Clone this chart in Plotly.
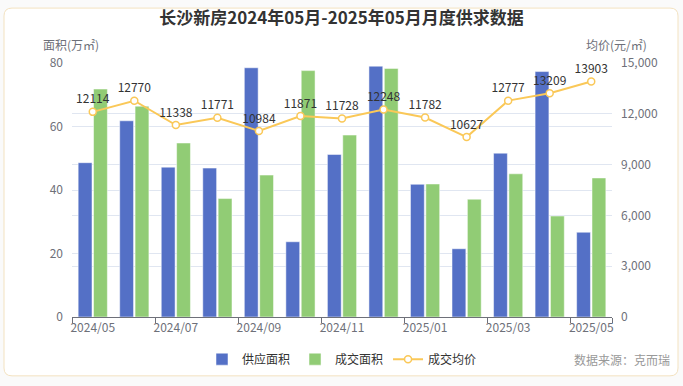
import plotly.graph_objects as go

months = ["2024/05", "2024/06", "2024/07", "2024/08", "2024/09", "2024/10", "2024/11",
          "2024/12", "2025/01", "2025/02", "2025/03", "2025/04", "2025/05"]
supply = [48.6, 61.8, 47.2, 46.9, 78.5, 23.7, 51.2, 79.0, 41.8, 21.5, 51.6, 77.3, 26.7]
deal = [71.8, 66.4, 54.8, 37.3, 44.7, 77.6, 57.3, 78.3, 41.9, 37.1, 45.1, 31.8, 43.8]
price = [12114, 12770, 11338, 11771, 10984, 11871, 11728, 12248, 11782, 10627, 12777, 13209, 13903]

FONT = "Noto Sans CJK SC, Microsoft YaHei, sans-serif"
idx = list(range(len(months)))

fig = go.Figure()
fig.add_trace(go.Bar(x=idx, y=supply, name="供应面积", marker=dict(color="#5470c6", line=dict(color="white", width=0.5))))
fig.add_trace(go.Bar(x=idx, y=deal, name="成交面积", marker=dict(color="#91cc75", line=dict(color="white", width=0.5))))
fig.add_trace(go.Scatter(
    x=idx, y=price, name="成交均价", yaxis="y2", mode="lines+markers+text",
    line=dict(color="#fac858", width=2),
    marker=dict(symbol="circle", size=7, color="white", line=dict(color="#fac858", width=1.5)),
    text=[str(p) for p in price], textposition="top center",
    textfont=dict(family=FONT, size=12, color="#333333"),
))

# card geometry (pixel -> paper)
L, R, T, B = 72, 612, 63, 322
W, H = R - L, B - T
def px(x): return (x - L) / W
def py(y): return (B - y) / H
x0, x1, y0, y1, r = 4, 678, 7, 382, 8
path = (f"M {px(x0 + r)} {py(y0)} L {px(x1 - r)} {py(y0)} Q {px(x1)} {py(y0)} {px(x1)} {py(y0 + r)} "
        f"L {px(x1)} {py(y1 - r)} Q {px(x1)} {py(y1)} {px(x1 - r)} {py(y1)} "
        f"L {px(x0 + r)} {py(y1)} Q {px(x0)} {py(y1)} {px(x0)} {py(y1 - r)} "
        f"L {px(x0)} {py(y0 + r)} Q {px(x0)} {py(y0)} {px(x0 + r)} {py(y0)} Z")

fig.update_layout(
    width=683, height=386,
    margin=dict(l=L, r=683 - R, t=T, b=386 - B),
    paper_bgcolor="#fafafa", plot_bgcolor="rgba(0,0,0,0)",
    font=dict(family=FONT, size=12, color="#6e7079"),
    title=dict(text="<b>长沙新房2024年05月-2025年05月月度供求数据</b>", x=0.5, xanchor="center",
               y=1 - 18 / 386, yanchor="middle", font=dict(family=FONT, size=17, color="#333333")),
    barmode="group", bargap=0.26, bargroupgap=0.1,
    showlegend=True,
    legend=dict(orientation="h", x=0.5, xanchor="center", y=py(365), yanchor="middle",
                font=dict(family=FONT, size=12, color="#333333"), bgcolor="rgba(0,0,0,0)",
                itemwidth=30, traceorder="normal"),
    xaxis=dict(range=[-0.5, len(months) - 0.5], tickmode="array", tickvals=idx[::2],
               ticktext=months[::2], ticks="", showline=True, linecolor="#6e7079", linewidth=1,
               showgrid=False, zeroline=False, tickfont=dict(size=12, color="#6e7079"),
               minor=dict(tickvals=[i - 0.5 for i in idx[::2]] + [len(months) - 0.5],
                          ticks="outside", ticklen=5, tickcolor="#6e7079", showgrid=False)),
    yaxis=dict(range=[0, 80], tickvals=[0, 20, 40, 60, 80], showgrid=True, gridcolor="#e0e6f1",
               zeroline=False, showline=False, ticks="", ticklabelstandoff=8,
               tickfont=dict(size=12, color="#6e7079")),
    yaxis2=dict(range=[0, 15000], tickvals=[0, 3000, 6000, 9000, 12000, 15000], overlaying="y",
                side="right", showgrid=True, gridcolor="#e0e6f1", zeroline=False, showline=False,
                tickformat=",d", ticks="", ticklabelstandoff=8, tickfont=dict(size=12, color="#6e7079")),
    shapes=[dict(type="path", path=path, xref="paper", yref="paper", layer="below",
                 fillcolor="white", line=dict(color="#f3e2c0", width=1))],
    annotations=[
        dict(text="面积(万㎡)", x=px(71), y=py(44), xref="paper", yref="paper", showarrow=False,
             xanchor="center", yanchor="middle", font=dict(size=12, color="#6e7079")),
        dict(text="均价(元/㎡)", x=px(616), y=py(44), xref="paper", yref="paper", showarrow=False,
             xanchor="center", yanchor="middle", font=dict(size=12, color="#6e7079")),
        dict(text="数据来源：克而瑞", x=px(672), y=py(365), xref="paper", yref="paper", showarrow=False,
             xanchor="right", yanchor="middle", font=dict(size=12, color="#999999")),
    ],
)

fig.write_html("out.html", config={"displayModeBar": False},
               post_script="document.body.style.margin='0';document.body.style.overflow='hidden';")
